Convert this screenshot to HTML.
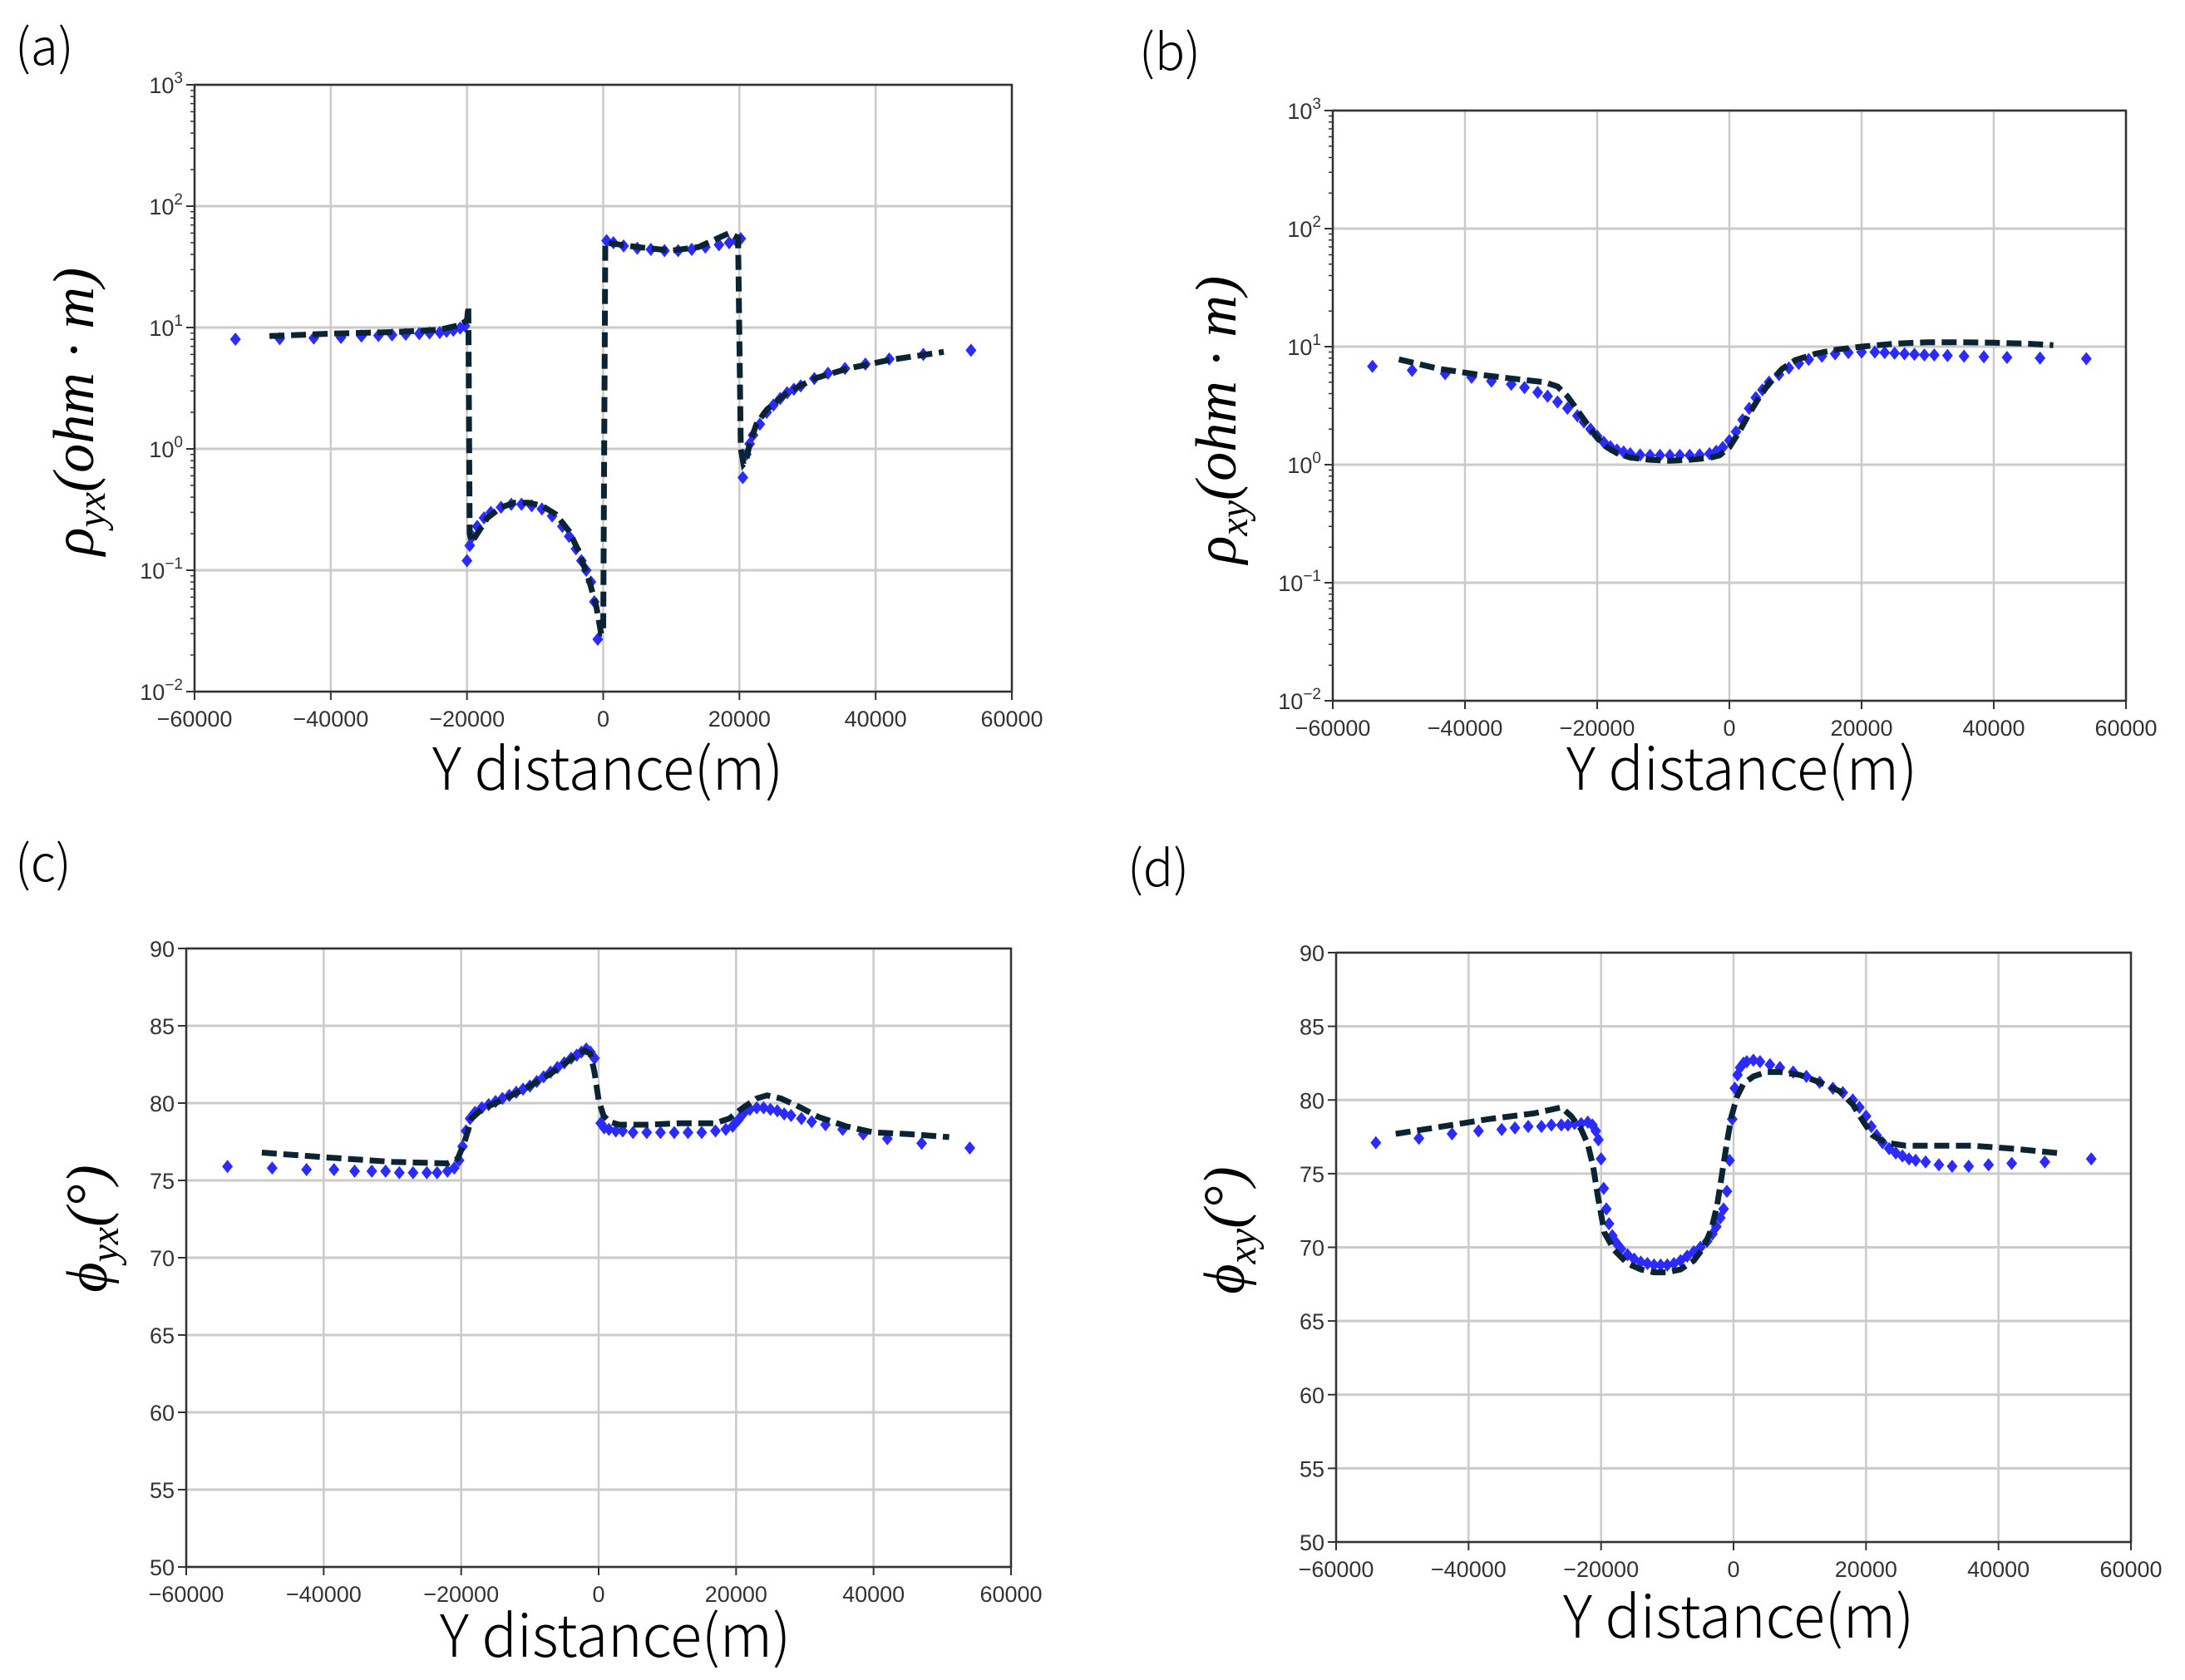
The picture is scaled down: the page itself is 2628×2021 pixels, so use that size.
<!DOCTYPE html>
<html><head><meta charset="utf-8"><style>
html,body{margin:0;padding:0;background:#fff;}
svg{display:block;}
.tk{font-family:"Liberation Sans","DejaVu Sans",sans-serif;font-size:27px;fill:#333;}
.xl{font-family:"Noto Sans CJK JP","Liberation Sans",sans-serif;font-size:70px;font-weight:300;fill:#000;}
.pl{font-family:"Noto Sans CJK JP","Liberation Sans",sans-serif;font-size:60px;font-weight:300;fill:#000;}
.yl{font-family:"Liberation Serif","DejaVu Serif",serif;font-style:italic;font-size:70px;fill:#000;}
</style></head><body>
<svg id="fig" width="2628" height="2021" viewBox="0 0 2628 2021" xmlns="http://www.w3.org/2000/svg">
<rect width="2628" height="2021" fill="#fff"/>
</svg>
<script>
// Panel (a) rho_yx
const aMarkX=[-54000,-47500,-42500,-38500,-35500,-33000,-31000,-29000,-27000,-25500,-24000,-23000,-22000,-21000,-20300,-20000,-19600,-19200,-18500,-17500,-16500,-15000,-13500,-12000,-10500,-9000,-7500,-6000,-5000,-4000,-3200,-2500,-1800,-1300,-800,500,1500,3000,5000,7000,9000,11000,13000,15000,17000,18500,19500,20200,20500,21000,21500,22000,23000,24000,25000,26000,27000,28000,29000,31000,33000,35500,38500,42000,47000,54000];
const aMarkY=[8.0,8.1,8.2,8.3,8.5,8.6,8.7,8.8,8.9,9.0,9.1,9.3,9.5,9.9,10.3,0.12,0.16,0.19,0.23,0.27,0.30,0.33,0.35,0.35,0.34,0.32,0.28,0.23,0.19,0.15,0.12,0.10,0.08,0.055,0.027,52,50,47,45,44,43,43,44,46,48,50,52,54,0.58,0.9,1.1,1.3,1.6,2.0,2.3,2.6,2.9,3.1,3.3,3.8,4.2,4.6,5.0,5.5,6.0,6.5];
const aLineX=[-49000,-40000,-30000,-24000,-21000,-20000,-19800,-19600,-19300,-18500,-17000,-15000,-13000,-11000,-9000,-7000,-5000,-3500,-2000,-1000,-300,0,300,1500,5000,10000,14000,17000,18500,19800,20200,20600,21000,21500,22500,24000,27000,31000,36000,42000,50000];
const aLineY=[8.5,8.9,9.2,9.6,10.5,11.5,15,0.2,0.17,0.2,0.27,0.33,0.36,0.36,0.34,0.29,0.21,0.14,0.08,0.05,0.03,0.03,50,49,46,43,46,55,60,55,1.0,0.75,0.8,1.1,1.6,2.1,2.9,3.8,4.6,5.4,6.3];
// Panel (b) rho_xy
const bMarkX=[-54000,-48000,-43000,-39000,-36000,-33000,-31000,-29000,-27500,-26000,-24500,-23000,-22000,-21000,-20000,-19000,-18000,-17000,-16000,-15000,-13500,-12000,-10500,-9000,-7500,-6000,-4500,-3000,-2000,-1000,0,1000,2000,3000,4000,5000,6000,7500,9000,10500,12000,14000,16000,18000,20000,22000,23500,25000,26500,28000,29500,31000,33000,35500,38500,42000,47000,54000];
const bMarkY=[6.8,6.3,5.9,5.5,5.1,4.8,4.5,4.1,3.8,3.4,3.0,2.6,2.3,2.0,1.75,1.55,1.42,1.33,1.28,1.24,1.21,1.2,1.2,1.2,1.2,1.2,1.21,1.24,1.3,1.4,1.6,1.9,2.4,3.0,3.7,4.3,5.0,5.8,6.6,7.2,7.8,8.3,8.7,8.9,9.0,9.0,8.9,8.8,8.7,8.6,8.5,8.5,8.4,8.3,8.2,8.1,8.0,7.9];
const bLineX=[-50000,-44000,-38000,-32000,-28000,-26000,-24500,-23000,-21500,-20000,-18500,-17000,-15000,-12000,-9000,-6000,-3000,-1500,0,1500,3000,4500,6000,8000,10000,13000,16000,20000,25000,30000,35000,40000,45000,49000];
const bLineY=[7.8,6.5,5.8,5.3,5.0,4.6,3.8,2.9,2.2,1.7,1.4,1.25,1.15,1.1,1.08,1.1,1.14,1.2,1.4,1.9,2.7,3.7,4.9,6.5,7.7,8.7,9.4,10.0,10.6,10.9,10.9,10.8,10.6,10.3];
// Panel (c) phi_yx
const cMarkX=[-54000,-47500,-42500,-38500,-35500,-33000,-31000,-29000,-27000,-25000,-23500,-22000,-21000,-20300,-19800,-19300,-18700,-18000,-17000,-16000,-15000,-14000,-13000,-12000,-11000,-10000,-9000,-8000,-7000,-6000,-5000,-4000,-3200,-2500,-1800,-1200,-600,300,800,1500,2500,3500,5000,7000,9000,11000,13000,15000,17000,18500,19500,20300,21000,22000,23000,24000,25000,26000,27000,28000,29500,31000,33000,35500,38500,42000,47000,54000];
const cMarkY=[75.9,75.8,75.7,75.7,75.6,75.6,75.6,75.5,75.5,75.5,75.5,75.6,75.8,76.3,77.2,78.2,79.0,79.4,79.7,79.9,80.1,80.3,80.5,80.7,80.9,81.1,81.4,81.7,82.0,82.3,82.6,82.9,83.1,83.3,83.5,83.3,82.9,78.7,78.4,78.3,78.2,78.2,78.1,78.1,78.1,78.1,78.1,78.1,78.2,78.3,78.5,78.9,79.3,79.6,79.7,79.7,79.6,79.5,79.3,79.2,79.0,78.8,78.6,78.3,78.0,77.7,77.4,77.1];
const cLineX=[-49000,-40000,-30000,-22000,-20500,-19500,-18500,-17000,-14000,-10000,-7000,-4500,-3000,-2000,-1200,-600,0,700,1500,3000,7000,12000,17000,19000,21000,23000,24500,26500,29000,32000,36000,40000,45000,51000];
const cLineY=[76.8,76.5,76.2,76.1,76.4,77.5,79.0,79.6,80.2,81.1,81.9,82.7,83.2,83.4,83.2,82.0,80.2,79.2,78.8,78.6,78.6,78.7,78.7,79.0,79.7,80.3,80.5,80.3,79.8,79.1,78.5,78.1,78.0,77.8];
// Panel (d) phi_xy
const dMarkX=[-54000,-47500,-42500,-38500,-35000,-33000,-31000,-29000,-27500,-26000,-25000,-24000,-23000,-22000,-21300,-20800,-20400,-20000,-19600,-19200,-18800,-18300,-17700,-17000,-16000,-15000,-14000,-13000,-12000,-11000,-10000,-9000,-8000,-7000,-6000,-5000,-4000,-3200,-2600,-2000,-1500,-1000,-600,-200,200,600,1000,1500,2000,3000,4000,5500,7000,9000,11000,13000,15000,16500,18000,19000,20000,20800,21600,22500,23500,24500,25500,26500,27500,29000,31000,33000,35500,38500,42000,47000,54000];
const dMarkY=[77.1,77.4,77.7,77.9,78.0,78.1,78.2,78.2,78.3,78.3,78.3,78.4,78.4,78.5,78.3,77.9,77.3,76.0,74.0,72.6,71.6,70.8,70.3,69.9,69.5,69.2,69.0,68.9,68.8,68.8,68.8,68.9,69.1,69.4,69.7,70.0,70.4,70.9,71.4,72.0,72.6,73.8,75.9,78.7,80.8,81.7,82.2,82.5,82.6,82.7,82.6,82.4,82.2,81.9,81.6,81.2,80.8,80.5,80.0,79.5,78.9,78.2,77.6,77.1,76.7,76.4,76.2,76.0,75.9,75.8,75.6,75.5,75.5,75.6,75.7,75.8,76.0];
const dLineX=[-51000,-44000,-37000,-30000,-26000,-24500,-23000,-22000,-21200,-20500,-19500,-18000,-16000,-14000,-12000,-10000,-8000,-6000,-4500,-3300,-2500,-1800,-1000,-300,500,1500,3000,5000,7000,10000,13000,16000,18000,19500,21000,23000,26000,30000,36000,42000,49000];
const dLineY=[77.7,78.2,78.7,79.1,79.5,78.9,78.0,77.0,75.5,73.5,71.0,69.8,68.9,68.5,68.3,68.3,68.5,69.1,70.0,71.3,72.8,74.8,77.1,78.9,80.2,81.1,81.6,81.9,81.9,81.7,81.2,80.6,79.7,78.6,77.6,77.1,76.9,76.9,76.9,76.7,76.4];

const tickX=[-60000,-40000,-20000,0,20000,40000,60000];
const logTicks=[3,2,1,0,-1,-2];
const phaseTicks=[90,85,80,75,70,65,60,55,50];

const NS="http://www.w3.org/2000/svg";
const svg=document.getElementById('fig');
function el(tag,attrs,parent,text){const e=document.createElementNS(NS,tag);for(const k in attrs)e.setAttribute(k,attrs[k]);if(text!==undefined)e.textContent=text;(parent||svg).appendChild(e);return e;}

function panel(cfg){
  const g=el('g',{});
  
  
  const L=cfg.L,R=cfg.R,T=cfg.T,B=cfg.B;
  const xs=v=>L+(v+60000)/120000*(R-L);
  const ys=cfg.log?(v=>T+(3-Math.log10(v))/5*(B-T)):(v=>T+(90-v)/40*(B-T));
  tickX.forEach(t=>{const l=el('line',{x1:xs(t),x2:xs(t),y1:T,y2:B,stroke:'#cbcbcb','stroke-width':2.5},g);});
  const yt=cfg.log?logTicks:phaseTicks;
  yt.forEach(t=>{const yv=cfg.log?ys(Math.pow(10,t)):ys(t);const l=el('line',{x1:L,x2:R,y1:yv,y2:yv,stroke:'#cbcbcb','stroke-width':3},g);});
  if(cfg.log){for(let e=-2;e<3;e++)for(let m=2;m<10;m++){const yv=ys(m*Math.pow(10,e));el('line',{x1:L-5,x2:L,y1:yv,y2:yv,stroke:'#333','stroke-width':1.5},g);}}
  let d='';cfg.lx.forEach((x,i)=>{d+=(i?'L':'M')+xs(x).toFixed(1)+' '+ys(cfg.ly[i]).toFixed(1);});
  cfg.mx.forEach((x,i)=>{const cx=xs(x),cy=ys(cfg.my[i]);const p=el('path',{d:`M${cx} ${cy-8}L${cx+6.5} ${cy}L${cx} ${cy+8}L${cx-6.5} ${cy}Z`,fill:'#2b2bff'},g);});
  const ln=el('path',{d:d,fill:'none',stroke:'#0b2433','stroke-width':7,'stroke-dasharray':'18 8'},g);
  
  
  const fr=el('rect',{x:L,y:T,width:R-L,height:B-T,fill:'none',stroke:'#333','stroke-width':2.5},g);
  
  
  tickX.forEach(t=>{el('line',{x1:xs(t),x2:xs(t),y1:B,y2:B+10,stroke:'#333','stroke-width':2},g);
    const tx=el('text',{x:xs(t),y:B+42,'text-anchor':'middle',class:'tk'},g,(t<0?'\u2212':'')+Math.abs(t));
    });
  yt.forEach(t=>{const yv=cfg.log?ys(Math.pow(10,t)):ys(t);
    el('line',{x1:L-10,x2:L,y1:yv,y2:yv,stroke:'#333','stroke-width':2},g);
    let tx;
    if(cfg.log){tx=el('text',{x:L-14,y:yv+10,'text-anchor':'end',class:'tk'},g);
      el('tspan',{},tx,'10');el('tspan',{dy:-12,'font-size':19},tx,(t<0?'\u2212':'')+Math.abs(t));}
    else tx=el('text',{x:L-14,y:yv+10,'text-anchor':'end',class:'tk'},g,String(t));
    });
  const xl=el('text',{x:cfg.xlx,y:cfg.xly,'text-anchor':'middle',class:'xl'},g,'Y distance(m)');
  
  
  const yl=el('text',{x:0,y:0,'text-anchor':'middle',class:'yl',transform:`translate(${cfg.ylx},${cfg.yly}) rotate(-90)`},g);
  
  
  el('tspan',{},yl,cfg.sym);el('tspan',{dy:14,'font-size':48},yl,cfg.sub);el('tspan',{dy:-14},yl,cfg.unit);
  const pl=el('text',{x:cfg.plx,y:cfg.ply,class:'pl'},g,'('+cfg.id+')');
  
  
}
panel({id:'a',L:234,R:1217,T:102,B:832,log:true,mx:aMarkX,my:aMarkY,lx:aLineX,ly:aLineY,xlx:731,xly:950,ylx:112,yly:495,sym:'\u03C1',sub:'yx',unit:'(ohm \u00B7 m)',plx:18,ply:78});
panel({id:'b',L:1603,R:2557,T:133,B:843,log:true,mx:bMarkX,my:bMarkY,lx:bLineX,ly:bLineY,xlx:2095,xly:950,ylx:1486,yly:505,sym:'\u03C1',sub:'xy',unit:'(ohm \u00B7 m)',plx:1370,ply:84});
panel({id:'c',L:224,R:1216,T:1141,B:1885,log:false,mx:cMarkX,my:cMarkY,lx:cLineX,ly:cLineY,xlx:740,xly:1993,ylx:128,yly:1478,sym:'\u03D5',sub:'yx',unit:'(\u00B0)',plx:18,ply:1060});
panel({id:'d',L:1607,R:2563,T:1146,B:1855,log:false,mx:dMarkX,my:dMarkY,lx:dLineX,ly:dLineY,xlx:2091,xly:1970,ylx:1496,yly:1480,sym:'\u03D5',sub:'xy',unit:'(\u00B0)',plx:1356,ply:1066});
</script>
</body></html>
